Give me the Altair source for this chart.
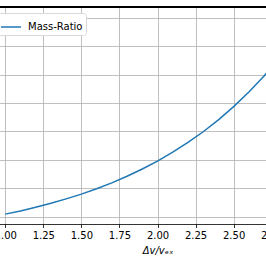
import altair as alt
import pandas as pd

dv_ratio = [1.0, 1.1, 1.2, 1.3, 1.4, 1.5, 1.6, 1.7, 1.8, 1.9, 2.0,
            2.1, 2.2, 2.3, 2.4, 2.5, 2.6, 2.7, 2.8, 2.9, 3.0]
mass_ratio = [2.72, 3.00, 3.32, 3.67, 4.06, 4.48, 4.95, 5.47, 6.05, 6.69, 7.39,
              8.17, 9.03, 9.97, 11.02, 12.18, 13.46, 14.88, 16.44, 18.17, 20.09]
x_ticks = [1.0, 1.25, 1.5, 1.75, 2.0, 2.25, 2.5, 2.75, 3.0]
y_ticks = [2.5, 5.0, 7.5, 10.0, 12.5, 15.0, 17.5, 20.0]

df = pd.DataFrame({"x": dv_ratio, "y": mass_ratio, "series": ["Mass-Ratio"] * len(dv_ratio)})

W = 335
H = 217
FONT = "DejaVu Sans"

line = alt.Chart(df).mark_line(strokeWidth=1.5, clip=True).encode(
    x=alt.X("x:Q", scale=alt.Scale(domain=[0.9, 3.1], nice=False, zero=False),
            axis=alt.Axis(values=x_ticks, format=".2f", grid=True, gridColor="#b0b0b0",
                          gridWidth=0.8, domainColor="black", domainWidth=0.8,
                          tickColor="black", tickWidth=0.8, tickSize=3.5,
                          labelFont=FONT, labelFontSize=10, labelColor="black",
                          labelPadding=3, labelFlush=False, labelOverlap=False,
                          title="Δv/vₑₓ", titleFont=FONT, titleFontSize=10,
                          titleFontWeight="normal", titleFontStyle="italic",
                          titleColor="black", titlePadding=5)),
    y=alt.Y("y:Q", scale=alt.Scale(domain=[1.85, 20.95], nice=False, zero=False),
            axis=alt.Axis(values=y_ticks, grid=True, gridColor="#b0b0b0", gridWidth=0.8,
                          labels=False, ticks=False, domain=False, title=None)),
    color=alt.Color("series:N", scale=alt.Scale(range=["#1f77b4"]),
                    legend=alt.Legend(title=None, orient="none", legendX=7, legendY=6,
                                      symbolType="stroke", symbolSize=400,
                                      symbolStrokeWidth=1.5, labelFont=FONT,
                                      labelFontSize=10, labelColor="black",
                                      labelOffset=6, padding=3,
                                      strokeColor="#d9d9d9", fillColor="white",
                                      cornerRadius=3)),
)

top_spine = alt.Chart(df).mark_rule(color="black", strokeWidth=0.8).encode(
    x=alt.value(0), x2=alt.value(W), y=alt.value(0)
)

chart = alt.layer(line, top_spine).properties(
    width=W, height=H,
    autosize=alt.AutoSizeParams(type="none"),
    padding={"left": -10, "right": -59, "top": 7, "bottom": 42},
).configure_view(stroke=None)

chart.save("out.html", embed_options={"renderer": "svg", "actions": False})
